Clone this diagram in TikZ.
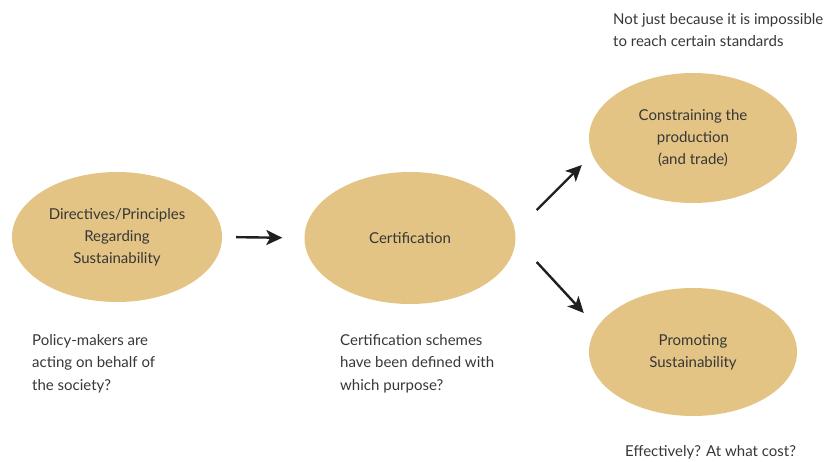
\documentclass[tikz,border=0pt]{standalone}
\usepackage{fontspec}
\setmainfont{Lato}
\usepackage{tikz}
\usetikzlibrary{shapes.geometric, arrows.meta, positioning}
\definecolor{arena}{RGB}{227,196,132}
\definecolor{texto}{RGB}{55,55,55}
\tikzset{
  burbuja/.style={ellipse, fill=arena, draw=none, align=center,
    minimum width=209pt, minimum height=130pt, inner sep=0pt,
    font=\fontsize{15}{22}\selectfont, text=texto},
  nota/.style={align=left, anchor=north west, inner sep=0pt,
    font=\fontsize{15}{22.5}\selectfont, text=texto},
  flecha/.style={-{Stealth[length=16pt, width=15pt, inset=4pt]}, line width=2.4pt, color=black!88}
}
\begin{document}
\begin{tikzpicture}[x=1pt, y=-1pt]
  \useasboundingbox (0,0) rectangle (829,461);
  \node[burbuja, minimum width=210pt] (dir) at (117,237)
    {Directives/Principles\\Regarding\\Sustainability};
  \node[burbuja, minimum width=211pt, minimum height=132pt] (cert) at (410,238) {Certification};
  \node[burbuja, minimum width=208pt] (cons) at (693,138)
    {Constraining the\\production\\(and trade)};
  \node[burbuja, minimum width=208pt, minimum height=128pt] (prom) at (693,352)
    {Promoting\\Sustainability};
  \node[nota] (n1) at (32,334) {Policy-makers are\\acting on behalf of\\the society?};
  \node[nota] (n2) at (340,334) {Certification schemes\\have been defined with\\which purpose?};
  \node[nota] (n3) at (613,13) {Not just because it is impossible\\to reach certain standards};
  \node[nota] (n4) at (625,445) {Effectively? At what cost?};
  \draw[flecha, shorten <=14pt, shorten >=22pt] (dir.east) -- (cert.west);
  \draw[flecha] ([xshift=21pt, yshift=28pt]cert.east) -- ([xshift=-7pt, yshift=-27pt]cons.west);
  \draw[flecha] ([xshift=21pt, yshift=-24pt]cert.east) -- ([xshift=-5pt, yshift=39pt]prom.west);
\end{tikzpicture}
\end{document}
